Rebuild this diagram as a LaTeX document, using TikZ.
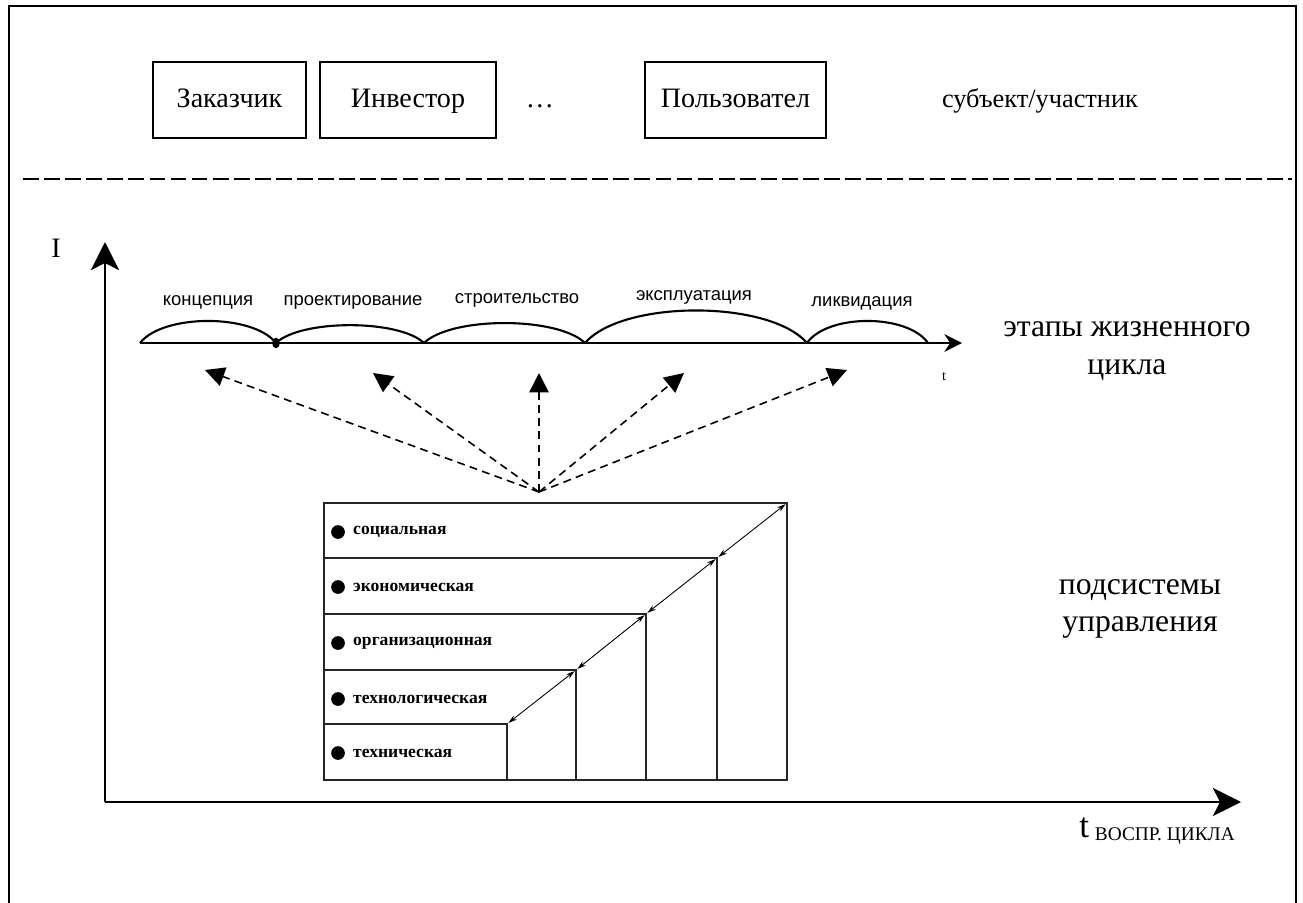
\documentclass[tikz,border=0pt]{standalone}
\usepackage{fontspec}
\setmainfont{Liberation Serif}
\newfontfamily\stagefont{Liberation Sans}
\usetikzlibrary{arrows.meta,positioning}

\begin{document}
\begin{tikzpicture}[x=0.02cm,y=-0.02cm,
    actorBox/.style={shape=rectangle, draw, line width=1.4pt, minimum height=1.52cm, inner sep=0pt,
      text height=11pt, text depth=3pt, font=\fontsize{16}{19}\selectfont},
    sideText/.style={align=center, font=\fontsize{18}{21.5}\selectfont},
    stageLabel/.style={font=\stagefont\fontsize{10.5}{12}\selectfont, text height=8pt, text depth=2pt},
    stageArc/.style={line width=1.2pt},
    axisLine/.style={line width=1.2pt, -{Stealth[length=16pt,width=16pt,inset=4pt]}},
    dashArrow/.style={line width=0.9pt, dash pattern=on 4.5pt off 3pt, -{Triangle[length=11pt,width=11pt]}},
    tableLine/.style={draw=black!85, line width=0.8pt},
    stepArrow/.style={line width=0.5pt, {Stealth[length=5pt,width=3pt]}-{Stealth[length=5pt,width=3pt]}},
    subLabel/.style={anchor=west, font=\bfseries\fontsize{10}{12}\selectfont}]
  \useasboundingbox (0,0) rectangle (1303,903);
  % frame and separator
  \draw[line width=1.1pt] (9,903) -- (9,6) -- (1296,6) -- (1296,903);
  \draw[line width=1.2pt, dash pattern=on 9pt off 3pt] (23,179) -- (1292,179);

  % participants
  \node[actorBox, minimum width=3.06cm] (zakazchik) at (229.5,100) {Заказчик};
  \node[actorBox, minimum width=3.52cm] (investor) at (408,100) {Инвестор};
  \node[font=\fontsize{16}{19}\selectfont, text height=11pt, text depth=3pt] (dots) at (540,100) {…};
  \node[actorBox, minimum width=3.62cm] (polzovatel) at (735.5,100) {Пользовател};
  \node[font=\fontsize{15}{18}\selectfont, text height=11pt, text depth=3pt] (subjLabel) at (1040,100) {субъект/участник};

  % axes
  \coordinate (origin) at (105,802);
  \coordinate (yEnd) at (105,242);
  \coordinate (xEnd) at (1241,802);
  \draw[axisLine] (origin) -- (yEnd);
  \draw[axisLine] (origin) -- (xEnd);
  \node[font=\fontsize{16}{18}\selectfont] (iLabel) at (56,248) {I};
  \node[anchor=west, font=\fontsize{20}{22}\selectfont, inner sep=0pt] (tLabel) at (1079,831)
    {t\,\raisebox{-2pt}{\fontsize{11}{13}\selectfont ВОСПР. ЦИКЛА}};

  % life cycle stages
  \coordinate (tStart) at (140,343);
  \coordinate (tEnd) at (962,343);
  \draw[line width=0.9pt, -{Stealth[length=10pt,width=10pt]}] (tStart) -- (tEnd);
  \foreach \a/\b/\h in {140/276/21, 276/424/17, 424/585/19, 585/807/31, 807/928/21}
    \draw[stageArc] (\a,343) .. controls +(0.17*\b-0.17*\a,-1.4*\h) and (\b-0.17*\b+0.17*\a,343-1.4*\h) .. (\b,343);
  \fill (276,343) ellipse (2.2pt and 3pt);
  \node[stageLabel] (koncepciya) at (208,300) {концепция};
  \node[stageLabel] (proekt) at (353,300) {проектирование};
  \node[stageLabel] (stroit) at (517,298) {строительство};
  \node[stageLabel] (ekspl) at (694,295) {эксплуатация};
  \node[stageLabel] (likvid) at (862,301) {ликвидация};
  \node[font=\fontsize{8}{9}\selectfont, inner sep=0pt] (tSmall) at (944,377) {t};
  \node[sideText] (stagesText) at (1127,351) {этапы жизненного\\цикла};

  % links from subsystems to stages
  \coordinate (hub) at (539,492);
  \foreach \x/\y in {205/370, 373/373, 539/373, 684/373, 847/370}
    \draw[dashArrow] (hub) -- (\x,\y);

  % subsystems table
  \draw[tableLine] (324,503) rectangle (787,780);
  \foreach \x/\y in {507/724, 576/670, 646/614, 717/558}
    \draw[tableLine] (324,\y) -- (\x,\y) -- (\x,780);
  \foreach \n/\x/\y in {1/507/724, 2/576/670, 3/646/614, 4/717/558, 5/787/503}
    \coordinate (corner\n) at (\x,\y);
  \foreach \i/\j in {1/2, 2/3, 3/4, 4/5}
    \draw[stepArrow, shorten <=1pt, shorten >=1pt] (corner\i) -- (corner\j);
  \foreach \y/\name in {532/социальная, 587/экономическая, 643/организационная, 699/технологическая, 753/техническая} {
    \fill (338,\y) circle (3.9pt);
    \node[subLabel] at (347,\y) {\name};
  }
  \node[sideText] (subsysText) at (1140,609) {подсистемы\\управления};
\end{tikzpicture}
\end{document}
